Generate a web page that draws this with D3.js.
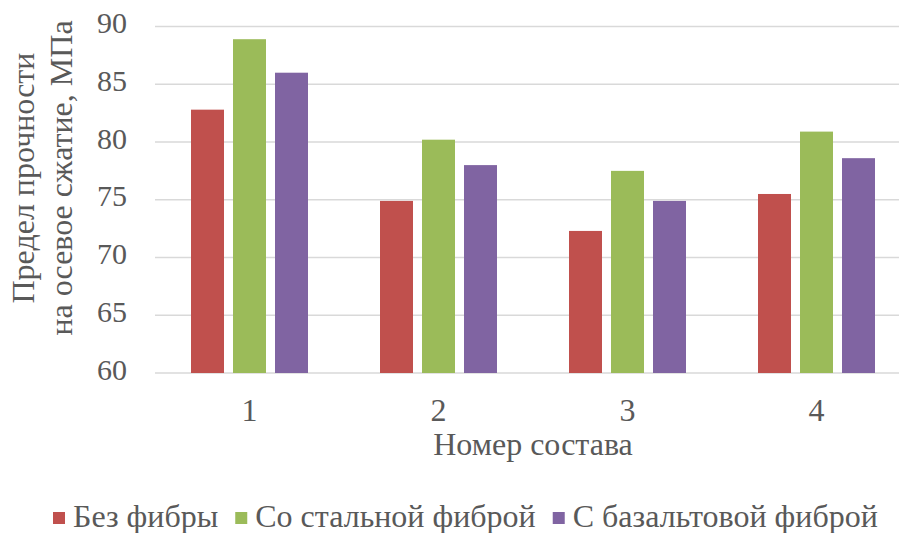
<!DOCTYPE html>
<html>
<head>
<meta charset="utf-8">
<script src="https://cdn.jsdelivr.net/npm/d3@7"></script>
<style>
  html, body { margin: 0; padding: 0; background: #fff; }
  svg { display: block; }
</style>
</head>
<body>
<svg id="fig" width="899" height="533"></svg>
<script>
// Compositions and compressive strength (MPa) for each fibre type
const categories = ["1", "2", "3", "4"];
const seriesNames = ["Без фибры", "Со стальной фиброй", "С базальтовой фиброй"];
const noFibre     = [82.8, 74.9, 72.3, 75.5];
const steelFibre  = [88.9, 80.2, 77.5, 80.9];
const basaltFibre = [86.0, 78.0, 74.9, 78.6];
const yTicks = [60, 65, 70, 75, 80, 85, 90];
const colors = ["#C0504D", "#9BBB59", "#8064A2"];

const seriesValues = [noFibre, steelFibre, basaltFibre];

const svg = d3.select("#fig");
const textColor = "#595959";
const fontFamily = "'Liberation Serif'";
const fontSize = 32;
const tickFontSize = 30;

const plot = { left: 155, right: 911, top: 26.5, bottom: 373 };

const x = d3.scaleBand().domain(categories).range([plot.left, plot.right]);
const xInner = d3.scaleBand()
  .domain(d3.range(seriesNames.length))
  .range([36, x.bandwidth() - 36])
  .paddingInner(9 / 42);
const y = d3.scaleLinear().domain([60, 90]).range([plot.bottom, plot.top]);

function label(parent, size) {
  return parent.append("text")
    .attr("font-family", fontFamily)
    .attr("font-size", size)
    .attr("fill", textColor);
}

// horizontal gridlines
svg.append("g")
  .selectAll("line")
  .data(yTicks)
  .join("line")
  .attr("x1", plot.left)
  .attr("x2", plot.right)
  .attr("y1", d => y(d))
  .attr("y2", d => y(d))
  .attr("stroke", "#D9D9D9")
  .attr("stroke-width", 1.5);

// bars
const groups = svg.append("g")
  .selectAll("g")
  .data(categories)
  .join("g")
  .attr("transform", d => `translate(${x(d)},0)`);

groups.selectAll("rect")
  .data((c, i) => seriesValues.map((vals, s) => ({ s, v: vals[i] })))
  .join("rect")
  .attr("x", d => xInner(d.s))
  .attr("width", xInner.bandwidth())
  .attr("y", d => y(d.v))
  .attr("height", d => y(60) - y(d.v))
  .attr("fill", d => colors[d.s]);

// y tick labels
const yLabels = svg.append("g");
yTicks.forEach(t => {
  label(yLabels, tickFontSize)
    .attr("x", plot.left - 28)
    .attr("y", y(t))
    .attr("dy", "0.22em")
    .attr("text-anchor", "end")
    .text(d3.format("d")(t));
});

// x tick labels
const xLabels = svg.append("g");
categories.forEach(c => {
  label(xLabels, fontSize)
    .attr("x", x(c) + x.bandwidth() / 2)
    .attr("y", plot.bottom + 48)
    .attr("text-anchor", "middle")
    .text(c);
});

// axis titles
label(svg, fontSize)
  .attr("x", (plot.left + plot.right) / 2)
  .attr("y", 455)
  .attr("text-anchor", "middle")
  .text("Номер состава");

const yTitle = label(svg, fontSize)
  .attr("transform", "translate(34,178) rotate(-90)")
  .attr("text-anchor", "middle");
yTitle.append("tspan").attr("x", 0).attr("dy", 0).text("Предел прочности");
yTitle.append("tspan").attr("x", 0).attr("dy", 38).text("на осевое сжатие, МПа");

// legend
const legend = svg.append("g").attr("transform", "translate(53,527)");
let cursor = 0;
seriesNames.forEach((name, i) => {
  const item = legend.append("g").attr("transform", `translate(${cursor},0)`);
  item.append("rect")
    .attr("x", 0).attr("y", -15)
    .attr("width", 12).attr("height", 12)
    .attr("fill", colors[i]);
  const t = label(item, fontSize)
    .attr("x", 20)
    .attr("y", 0)
    .text(name);
  cursor += 20 + t.node().getComputedTextLength() + 17;
});
</script>
</body>
</html>
